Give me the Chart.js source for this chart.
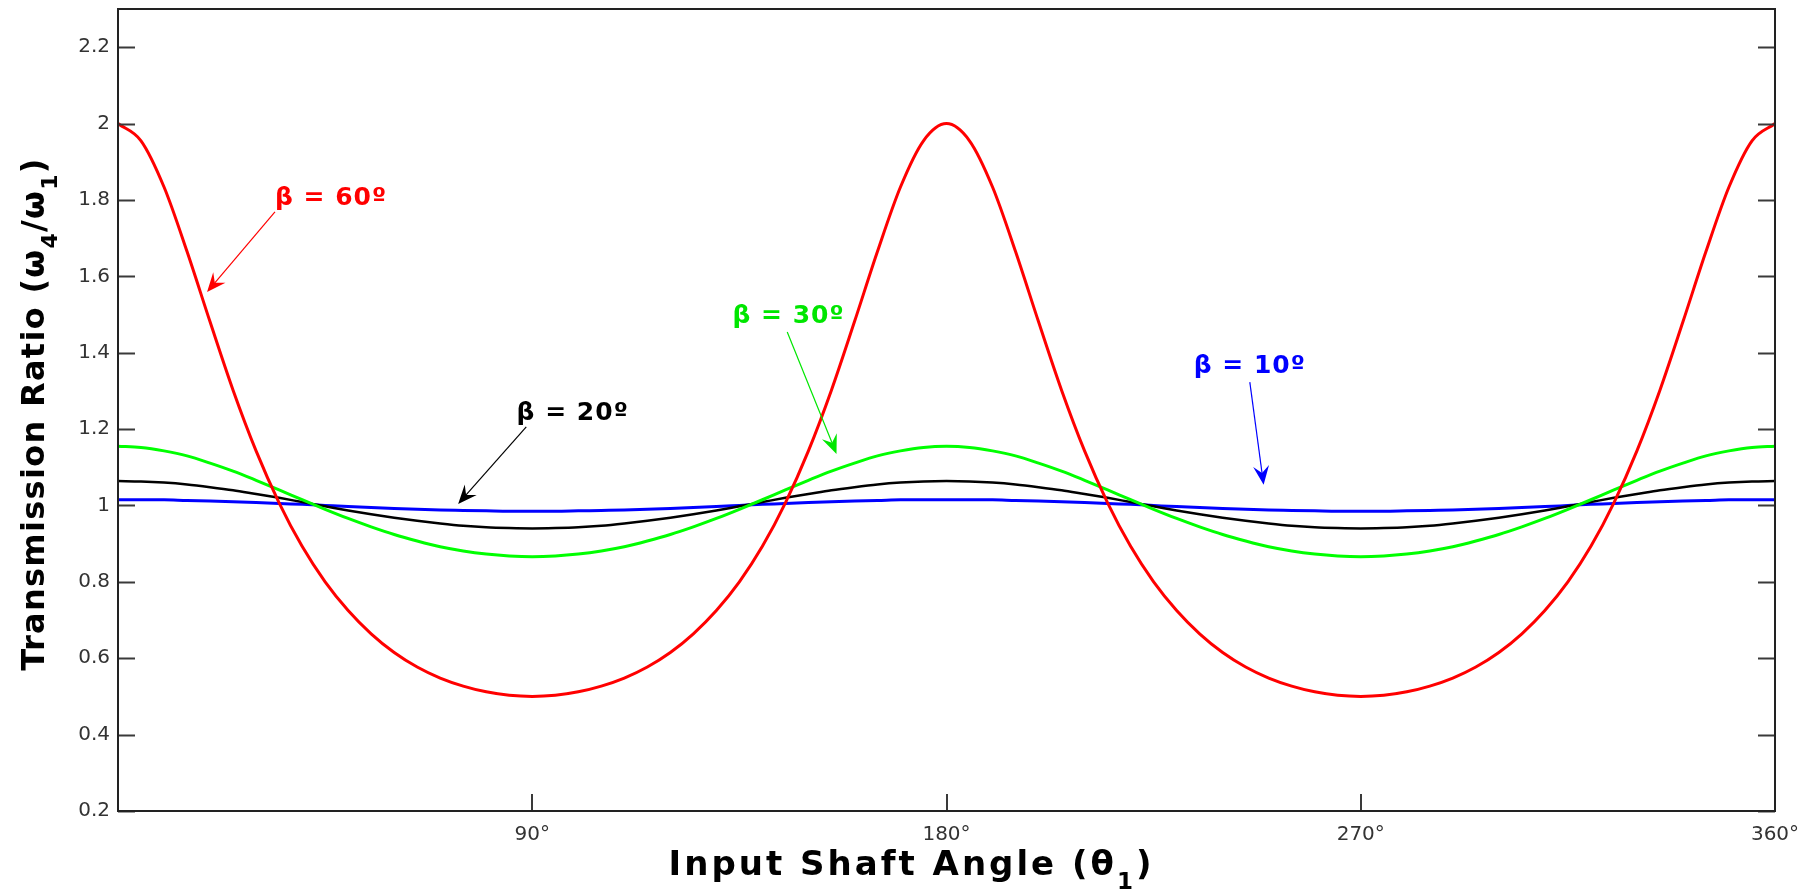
<!DOCTYPE html>
<html>
<head>
<meta charset="utf-8">
<script src="https://cdn.jsdelivr.net/npm/chart.js@4.4.1/dist/chart.umd.min.js"></script>
<style>
  html, body { margin: 0; padding: 0; background: #fff; }
  #wrap { width: 1814px; height: 891px; position: relative; }
</style>
</head>
<body>
<div id="wrap"><canvas id="chart"></canvas></div>
<script>
// input shaft angle, degrees
const angles = [
  0, 5, 10, 15, 20, 25, 30, 35, 40, 45, 50, 55, 60, 65, 70, 75, 80, 85, 90,
  95, 100, 105, 110, 115, 120, 125, 130, 135, 140, 145, 150, 155, 160, 165, 170, 175, 180,
  185, 190, 195, 200, 205, 210, 215, 220, 225, 230, 235, 240, 245, 250, 255, 260, 265, 270,
  275, 280, 285, 290, 295, 300, 305, 310, 315, 320, 325, 330, 335, 340, 345, 350, 355, 360
];

// transmission ratio w4/w1
const ratio60 = [
  2.000, 1.955, 1.834, 1.665, 1.481, 1.302, 1.143, 1.007, 0.893, 0.800, 0.725, 0.664, 0.615, 0.577, 0.548, 0.527, 0.512, 0.503, 0.500,
  0.503, 0.512, 0.527, 0.548, 0.577, 0.615, 0.664, 0.725, 0.800, 0.893, 1.007, 1.143, 1.302, 1.481, 1.665, 1.834, 1.955, 2.000,
  1.955, 1.834, 1.665, 1.481, 1.302, 1.143, 1.007, 0.893, 0.800, 0.725, 0.664, 0.615, 0.577, 0.548, 0.527, 0.512, 0.503, 0.500,
  0.503, 0.512, 0.527, 0.548, 0.577, 0.615, 0.664, 0.725, 0.800, 0.893, 1.007, 1.143, 1.302, 1.481, 1.665, 1.834, 1.955, 2.000
];
const ratio30 = [
  1.155, 1.152, 1.143, 1.130, 1.111, 1.090, 1.066, 1.041, 1.015, 0.990, 0.966, 0.944, 0.924, 0.907, 0.892, 0.881, 0.873, 0.868, 0.866,
  0.868, 0.873, 0.881, 0.892, 0.907, 0.924, 0.944, 0.966, 0.990, 1.015, 1.041, 1.066, 1.090, 1.111, 1.130, 1.143, 1.152, 1.155,
  1.152, 1.143, 1.130, 1.111, 1.090, 1.066, 1.041, 1.015, 0.990, 0.966, 0.944, 0.924, 0.907, 0.892, 0.881, 0.873, 0.868, 0.866,
  0.868, 0.873, 0.881, 0.892, 0.907, 0.924, 0.944, 0.966, 0.990, 1.015, 1.041, 1.066, 1.090, 1.111, 1.130, 1.143, 1.152, 1.155
];
const ratio20 = [
  1.064, 1.063, 1.060, 1.055, 1.048, 1.040, 1.030, 1.020, 1.009, 0.998, 0.987, 0.977, 0.968, 0.960, 0.953, 0.947, 0.943, 0.941, 0.940,
  0.941, 0.943, 0.947, 0.953, 0.960, 0.968, 0.977, 0.987, 0.998, 1.009, 1.020, 1.030, 1.040, 1.048, 1.055, 1.060, 1.063, 1.064,
  1.063, 1.060, 1.055, 1.048, 1.040, 1.030, 1.020, 1.009, 0.998, 0.987, 0.977, 0.968, 0.960, 0.953, 0.947, 0.943, 0.941, 0.940,
  0.941, 0.943, 0.947, 0.953, 0.960, 0.968, 0.977, 0.987, 0.998, 1.009, 1.020, 1.030, 1.040, 1.048, 1.055, 1.060, 1.063, 1.064
];
const ratio10 = [
  1.015, 1.015, 1.015, 1.013, 1.012, 1.010, 1.008, 1.005, 1.003, 1.000, 0.997, 0.995, 0.992, 0.990, 0.988, 0.987, 0.986, 0.985, 0.985,
  0.985, 0.986, 0.987, 0.988, 0.990, 0.992, 0.995, 0.997, 1.000, 1.003, 1.005, 1.008, 1.010, 1.012, 1.013, 1.015, 1.015, 1.015,
  1.015, 1.015, 1.013, 1.012, 1.010, 1.008, 1.005, 1.003, 1.000, 0.997, 0.995, 0.992, 0.990, 0.988, 0.987, 0.986, 0.985, 0.985,
  0.985, 0.986, 0.987, 0.988, 0.990, 0.992, 0.995, 0.997, 1.000, 1.003, 1.005, 1.008, 1.010, 1.012, 1.013, 1.015, 1.015, 1.015
];

const xTicks = [90, 180, 270, 360];
const yTicks = [0.2, 0.4, 0.6, 0.8, 1, 1.2, 1.4, 1.6, 1.8, 2, 2.2];

// callouts: label position and arrow, in data units
const callouts = [
  { text: 'β = 60º', color: '#ff0000', at: [34.1, 1.805], from: [34.1, 1.769], to: [19.35, 1.559] },
  { text: 'β = 30º', color: '#00e600', at: [133.5, 1.494], from: [145.4, 1.454], to: [156.1, 1.135] },
  { text: 'β = 20º', color: '#000000', at: [86.6, 1.242], from: [88.7, 1.206], to: [73.9, 1.004] },
  { text: 'β = 10º', color: '#0000ff', at: [233.7, 1.363], from: [245.9, 1.323], to: [248.9, 1.054] }
];

const FONT = 'Verdana, "DejaVu Sans", sans-serif';

function pts(ys) {
  return angles.map((a, i) => ({ x: a, y: ys[i] }));
}

// text with subscripts: parts = [[str, isSub], ...]
function drawRich(ctx, parts, cx, base, size, spacing) {
  const subSize = Math.round(size * 0.68);
  ctx.letterSpacing = spacing + 'px';
  let w = 0;
  parts.forEach(p => {
    ctx.font = 'bold ' + (p[1] ? subSize : size) + 'px ' + FONT;
    w += ctx.measureText(p[0]).width;
  });
  let x = cx - w / 2;
  ctx.textAlign = 'left';
  ctx.textBaseline = 'alphabetic';
  parts.forEach(p => {
    ctx.font = 'bold ' + (p[1] ? subSize : size) + 'px ' + FONT;
    ctx.fillText(p[0], x, base + (p[1] ? size * 0.42 : 0));
    x += ctx.measureText(p[0]).width;
  });
  ctx.letterSpacing = '0px';
}

function arrow(ctx, x1, y1, x2, y2) {
  const ang = Math.atan2(y2 - y1, x2 - x1);
  const len = 19, half = 8, notch = 12;
  ctx.beginPath();
  ctx.moveTo(x1, y1);
  ctx.lineTo(x2 - Math.cos(ang) * notch, y2 - Math.sin(ang) * notch);
  ctx.stroke();
  const bx = x2 - Math.cos(ang) * len, by = y2 - Math.sin(ang) * len;
  const nx = -Math.sin(ang), ny = Math.cos(ang);
  ctx.beginPath();
  ctx.moveTo(x2, y2);
  ctx.lineTo(bx + nx * half, by + ny * half);
  ctx.lineTo(x2 - Math.cos(ang) * notch, y2 - Math.sin(ang) * notch);
  ctx.lineTo(bx - nx * half, by - ny * half);
  ctx.closePath();
  ctx.fill();
}

const framePlugin = {
  id: 'frame',
  afterDatasetsDraw(chart) {
    const { ctx, chartArea: a, scales: { x, y } } = chart;
    ctx.save();
    // inward tick marks
    ctx.strokeStyle = '#3a3a3a';
    ctx.lineWidth = 2;
    ctx.beginPath();
    yTicks.forEach(v => {
      const p = Math.round(y.getPixelForValue(v)) + 0.5;
      ctx.moveTo(a.left, p); ctx.lineTo(a.left + 17, p);
      ctx.moveTo(a.right, p); ctx.lineTo(a.right - 17, p);
    });
    xTicks.forEach(v => {
      const p = Math.round(x.getPixelForValue(v));
      ctx.moveTo(p, a.bottom); ctx.lineTo(p, a.bottom - 17);
    });
    ctx.stroke();
    // box
    ctx.strokeStyle = '#222';
    ctx.lineWidth = 2;
    ctx.strokeRect(a.left, a.top, a.right - a.left, a.bottom - a.top);

    // callouts
    callouts.forEach(c => {
      ctx.fillStyle = c.color;
      ctx.strokeStyle = c.color;
      ctx.lineWidth = 1.2;
      ctx.font = 'bold 25px ' + FONT;
      ctx.letterSpacing = '1px';
      ctx.textAlign = 'left';
      ctx.textBaseline = 'middle';
      ctx.fillText(c.text, x.getPixelForValue(c.at[0]), y.getPixelForValue(c.at[1]));
      ctx.letterSpacing = '0px';
      arrow(ctx,
        x.getPixelForValue(c.from[0]), y.getPixelForValue(c.from[1]),
        x.getPixelForValue(c.to[0]), y.getPixelForValue(c.to[1]));
    });

    // axis titles
    ctx.fillStyle = '#000';
    drawRich(ctx, [['Input Shaft Angle (θ', false], ['1', true], [')', false]],
      (a.left + a.right) / 2 - 35, 875, 34, 3);
    ctx.translate(44, (a.top + a.bottom) / 2 + 4);
    ctx.rotate(-Math.PI / 2);
    drawRich(ctx, [['Transmission Ratio (ω', false], ['4', true], ['/ω', false], ['1', true], [')', false]],
      0, 0, 32, 1.3);
    ctx.restore();
  }
};

function line(label, ys, color, width) {
  return {
    label: label,
    data: pts(ys),
    borderColor: color,
    borderWidth: width,
    pointRadius: 0,
    cubicInterpolationMode: 'monotone',
    fill: false
  };
}

new Chart(document.getElementById('chart'), {
  type: 'line',
  data: {
    datasets: [
      line('β = 60º', ratio60, '#ff0000', 3),
      line('β = 30º', ratio30, '#00ff00', 3),
      line('β = 20º', ratio20, '#000000', 2.5),
      line('β = 10º', ratio10, '#0000ff', 3)
    ]
  },
  options: {
    responsive: true,
    maintainAspectRatio: false,
    animation: false,
    layout: { padding: { top: 9, right: 39, left: 0, bottom: 0 } },
    plugins: { legend: { display: false }, tooltip: { enabled: false } },
    scales: {
      x: {
        type: 'linear',
        min: 0,
        max: 360,
        afterBuildTicks: s => { s.ticks = xTicks.map(v => ({ value: v })); },
        afterFit: s => { s.height = 80; s.paddingLeft = 0; s.paddingRight = 0; },
        grid: { display: false, drawTicks: false },
        border: { display: false },
        ticks: {
          padding: 12,
          color: '#333',
          font: { family: FONT, size: 20 },
          maxRotation: 0,
          callback: v => v + '°'
        }
      },
      y: {
        min: 0.2,
        max: 2.3,
        afterBuildTicks: s => { s.ticks = yTicks.map(v => ({ value: v })); },
        afterFit: s => { s.width = 118; s.paddingTop = 0; s.paddingBottom = 0; },
        grid: { display: false, drawTicks: false },
        border: { display: false },
        ticks: {
          padding: 8,
          color: '#333',
          font: { family: FONT, size: 20 },
          callback: v => String(v)
        }
      }
    }
  },
  plugins: [framePlugin]
});
</script>
</body>
</html>
